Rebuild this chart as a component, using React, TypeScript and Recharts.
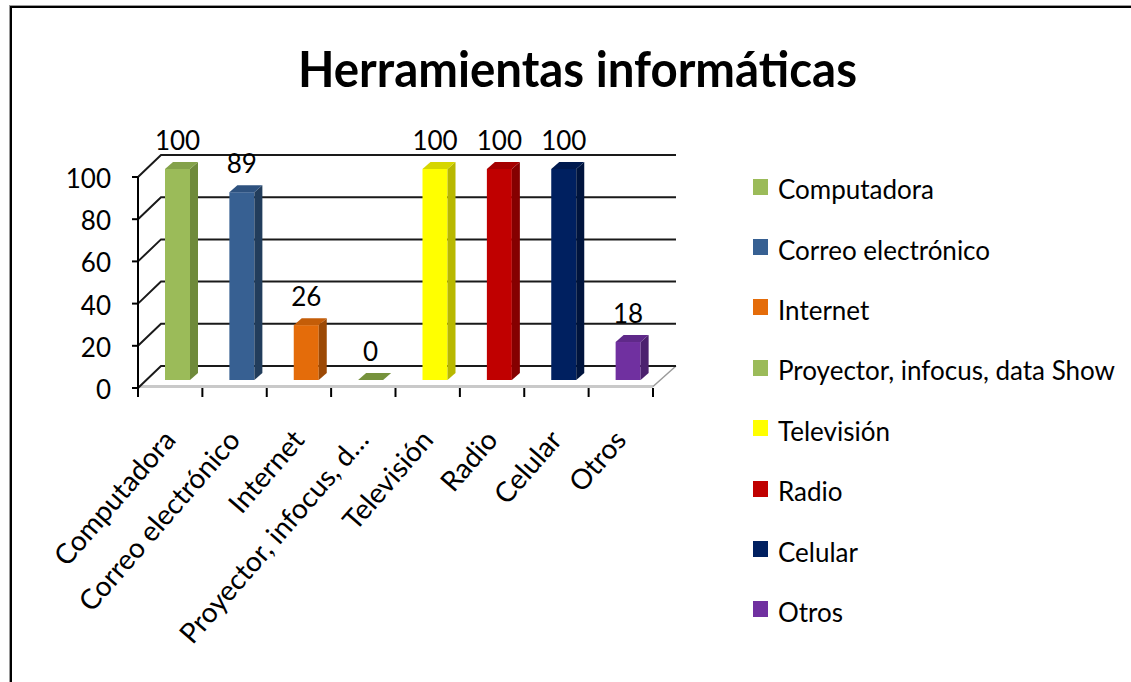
import React from 'react';
import { BarChart, Bar, XAxis, YAxis, CartesianGrid, Cell, LabelList, Legend } from 'recharts';

// ---------- data ----------
const categories = [
  'Computadora',
  'Correo electrónico',
  'Internet',
  'Proyector, infocus, data Show',
  'Televisión',
  'Radio',
  'Celular',
  'Otros',
];
const axisLabels = [
  'Computadora',
  'Correo electrónico',
  'Internet',
  'Proyector, infocus, d…',
  'Televisión',
  'Radio',
  'Celular',
  'Otros',
];
const values = [100, 89, 26, 0, 100, 100, 100, 18];
const yTicks = [0, 20, 40, 60, 80, 100];
const titleText = 'Herramientas informáticas';

// ---------- styles ----------
const frontColors = ['#9BBB59', '#376092', '#E46C0A', '#9BBB59', '#FFFF00', '#C00000', '#002060', '#7030A0'];
const sideColors = ['#6F8A3B', '#223D5C', '#9C4905', '#718C3E', '#B8B800', '#850000', '#00143D', '#4C216E'];
const topColors = ['#84A24A', '#2E527F', '#C45D08', '#76923C', '#D6D600', '#A50000', '#001A4F', '#5F2989'];

const FONT = "Lato, 'Open Sans', sans-serif";
const W = 1131;
const H = 682;
const PLOT_LEFT = 138;
const PLOT_RIGHT = 653;
const PLOT_TOP = 177;
const PLOT_BOTTOM = 388;
const Y_AXIS_W = 80;
const X_AXIS_H = 200;
// 3D projection
const WALL_DX = 23;
const WALL_DY = 22;
const BAR_DX = 7;
const BAR_DY = -8;
const BAR_DEPTH_X = 8;
const BAR_DEPTH_Y = 7;

const data = categories.map((name, i) => ({ name, value: values[i], idx: i }));

const GridLine = (props: any) => {
  const { x1, y1, x2, y, height } = props;
  const isFloor = Math.abs(y1 - (y + height)) < 0.5;
  const bx1 = x1 + WALL_DX;
  const bx2 = x2 + WALL_DX;
  const by = y1 - WALL_DY;
  if (isFloor) {
    return (
      <g key={props.key}>
        <polygon points={`${x1},${y1} ${bx1},${by} ${bx2},${by} ${x2},${y1}`} fill="#ffffff" />
        <line x1={x1} y1={y1 - 1.5} x2={x2} y2={y1 - 1.5} stroke="#c9c9c9" strokeWidth={3} />
        <line x1={x2} y1={y1 - 1.5} x2={bx2} y2={by} stroke="#9a9a9a" strokeWidth={1.5} />
        <polyline points={`${x1},${y1} ${bx1},${by} ${bx2},${by}`} fill="none" stroke="#1a1a1a" strokeWidth={2} />
      </g>
    );
  }
  return (
    <polyline
      key={props.key}
      points={`${x1},${y1} ${bx1},${by} ${bx2},${by}`}
      fill="none"
      stroke="#1a1a1a"
      strokeWidth={2}
    />
  );
};

const Bar3D = (props: any) => {
  const { x, y, width, height } = props;
  const i = props.payload?.idx ?? props.index ?? 0;
  const fx = x + BAR_DX;
  const fy = y + BAR_DY;
  const h = Math.max(height || 0, 0);
  return (
    <g>
      {h > 0 && <rect x={fx} y={fy} width={width} height={h} fill={frontColors[i]} />}
      {h > 0 && (
        <polygon
          points={`${fx + width},${fy} ${fx + width + BAR_DEPTH_X},${fy - BAR_DEPTH_Y} ${fx + width + BAR_DEPTH_X},${fy + h - BAR_DEPTH_Y} ${fx + width},${fy + h}`}
          fill={sideColors[i]}
        />
      )}
      <polygon
        points={`${fx},${fy} ${fx + BAR_DEPTH_X},${fy - BAR_DEPTH_Y} ${fx + width + BAR_DEPTH_X},${fy - BAR_DEPTH_Y} ${fx + width},${fy}`}
        fill={topColors[i]}
      />
    </g>
  );
};

const ValueLabel = (props: any) => {
  const { x, y, width, value } = props;
  return (
    <text
      x={x + BAR_DX + width / 2}
      y={y + BAR_DY - 19}
      textAnchor="middle"
      fontFamily={FONT}
      fontSize={26}
      fill="#000"
    >
      {value}
    </text>
  );
};

const YTick = (props: any) => {
  const { x, y, payload } = props;
  return (
    <text x={x} y={y + 11} textAnchor="end" fontFamily={FONT} fontSize={26} fill="#000">
      {payload.value}
    </text>
  );
};

const XTick = (props: any) => {
  const { x, y, payload, index } = props;
  const half = payload?.offset ?? 0;
  const last = index === categories.length - 1;
  return (
    <g>
      <line x1={x - half} y1={y} x2={x - half} y2={y + 9} stroke="#000" strokeWidth={2} />
      {last && <line x1={x + half} y1={y} x2={x + half} y2={y + 9} stroke="#000" strokeWidth={2} />}
      <text
        transform={`translate(${x + 7},${y + 53}) rotate(-49)`}
        textAnchor="end"
        fontFamily={FONT}
        fontSize={28}
        fill="#000"
      >
        {axisLabels[index]}
      </text>
    </g>
  );
};

const LegendContent = () => (
  <div style={{ fontFamily: FONT }}>
    {categories.map((c, i) => (
      <div key={c} style={{ height: 60.4, display: 'flex', alignItems: 'center' }}>
        <span
          style={{
            display: 'inline-block',
            width: 15,
            height: 16,
            background: frontColors[i],
            marginRight: 10,
            marginTop: -5,
            flex: 'none',
          }}
        />
        <span style={{ fontSize: 26, lineHeight: 1, color: '#000', whiteSpace: 'nowrap' }}>{c}</span>
      </div>
    ))}
  </div>
);

export default function App() {
  return (
    <div
      style={{
        position: 'absolute',
        left: 0,
        top: 0,
        width: W,
        height: H,
        overflow: 'hidden',
        background: '#fff',
      }}
    >
      <div
        style={{
          position: 'absolute',
          left: 10,
          top: 6,
          width: 1300,
          height: 900,
          borderLeft: '2px solid #000',
          borderTop: '2px solid #000',
          boxShadow: '-1px -1px 0 #9a9a9a',
        }}
      />
      <BarChart
        width={W}
        height={H}
        data={data}
        margin={{
          top: PLOT_TOP,
          left: PLOT_LEFT - Y_AXIS_W,
          right: W - PLOT_RIGHT,
          bottom: H - PLOT_BOTTOM - X_AXIS_H,
        }}
        style={{ position: 'absolute', left: 0, top: 0 }}
      >
        <CartesianGrid vertical={false} horizontal={GridLine as any} />
        <XAxis
          dataKey="name"
          type="category"
          height={X_AXIS_H}
          interval={0}
          tickSize={0}
          tickMargin={0}
          tickLine={false}
          axisLine={false}
          tick={<XTick />}
        />
        <YAxis
          type="number"
          domain={[0, 100]}
          ticks={yTicks}
          width={Y_AXIS_W}
          tickSize={6}
          tickMargin={21}
          axisLine={{ stroke: '#000', strokeWidth: 2 }}
          tickLine={{ stroke: '#000', strokeWidth: 2 }}
          tick={<YTick />}
        />
        <Legend
          layout="vertical"
          align="center"
          verticalAlign="middle"
          content={<LegendContent />}
          wrapperStyle={{ left: 753, top: 159, width: 378, height: 490 }}
        />
        <Bar dataKey="value" barSize={25} isAnimationActive={false} shape={<Bar3D />}>
          {data.map((d, i) => (
            <Cell key={d.name} fill={frontColors[i]} />
          ))}
          <LabelList dataKey="value" content={<ValueLabel />} />
        </Bar>
      </BarChart>
      <svg
        width={W}
        height={H}
        style={{ position: 'absolute', left: 0, top: 0, pointerEvents: 'none' }}
      >
        <text
          x={298}
          y={87}
          fontFamily={FONT}
          fontWeight="bold"
          fontSize={50}
          textLength={559}
          lengthAdjust="spacingAndGlyphs"
          fill="#000"
        >
          {titleText}
        </text>
      </svg>
    </div>
  );
}
